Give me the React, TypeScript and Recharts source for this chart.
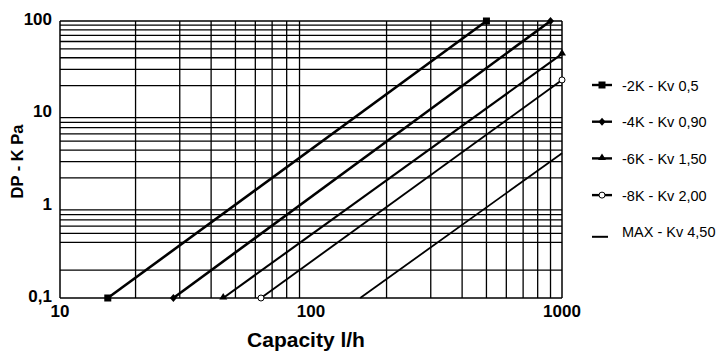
import { Line, LineChart, ReferenceLine, XAxis, YAxis } from "recharts"

const FONT = "'Liberation Sans', Arial, sans-serif"

// axis ticks
const xTicks = [10, 100, 1000]
const xGrid = [20, 30, 40, 50, 60, 70, 80, 90, 200, 300, 400, 500, 600, 700, 800, 900]
const yTicks = [0.1, 1, 10, 100]
const yTickLabels = ["0,1", "1", "10", "100"]
const yGrid = [0.2, 0.4, 0.5, 0.6, 0.7, 0.8, 0.9, 2, 3, 4, 5, 6, 7, 8, 9, 20, 30, 40, 50, 60, 70, 80, 90]

// series (capacity l/h -> pressure drop kPa), end points
const seriesNames = ["-2K - Kv 0,5", "-4K - Kv 0,90", "-6K - Kv 1,50", "-8K - Kv 2,00", "MAX - Kv 4,50"]
const flow2K = [15.5, 500]
const dp2K = [0.1, 100]
const flow4K = [28.3, 900]
const dp4K = [0.1, 100]
const flow6K = [44.7, 1000]
const dp6K = [0.1, 44]
const flow8K = [63.2, 1000]
const dp8K = [0.1, 23]
const flowMax = [157, 1000]
const dpMax = [0.1, 3.7]

type Shape = "square" | "diamond" | "triangle" | "circle" | "none"

const toPoints = (flow: number[], dp: number[]) => flow.map((q, i) => ({ q, dp: dp[i] }))

const series: { name: string; data: { q: number; dp: number }[]; width: number; shape: Shape }[] = [
  { name: seriesNames[0], data: toPoints(flow2K, dp2K), width: 2.6, shape: "square" },
  { name: seriesNames[1], data: toPoints(flow4K, dp4K), width: 2.6, shape: "diamond" },
  { name: seriesNames[2], data: toPoints(flow6K, dp6K), width: 2.1, shape: "triangle" },
  { name: seriesNames[3], data: toPoints(flow8K, dp8K), width: 1.9, shape: "circle" },
  { name: seriesNames[4], data: toPoints(flowMax, dpMax), width: 1.8, shape: "none" },
]

function Marker({ shape, cx, cy }: { shape: Shape; cx: number; cy: number }) {
  if (shape === "square") return <rect x={cx - 3.5} y={cy - 3.5} width={7} height={7} fill="#000" />
  if (shape === "diamond")
    return <polygon points={`${cx},${cy - 4} ${cx + 3.5},${cy} ${cx},${cy + 4} ${cx - 3.5},${cy}`} fill="#000" />
  if (shape === "triangle")
    return <polygon points={`${cx},${cy - 5} ${cx + 4},${cy + 1.5} ${cx - 4},${cy + 1.5}`} fill="#000" />
  if (shape === "circle") return <circle cx={cx} cy={cy} r={3} fill="#fff" stroke="#000" strokeWidth={1} />
  return null
}

function XTick({ x, y, payload }: any) {
  return (
    <text x={x} y={y + 11} textAnchor="middle" fontFamily={FONT} fontWeight="bold" fontSize={17} fill="#000">
      {payload.value}
    </text>
  )
}

function YTick({ x, y, payload }: any) {
  const label = yTickLabels[yTicks.indexOf(payload.value)] ?? payload.value
  return (
    <text x={x} y={y + 4} textAnchor="end" fontFamily={FONT} fontWeight="bold" fontSize={17} fill="#000">
      {label}
    </text>
  )
}

export default function App() {
  return (
    <div style={{ position: "absolute", left: 0, top: 0, width: 719, height: 355, background: "#fff" }}>
      <LineChart width={719} height={355} margin={{ top: 21, right: 157, left: 0, bottom: 0 }}>
        <XAxis
          dataKey="q"
          type="number"
          scale="log"
          domain={[10, 1000]}
          ticks={xTicks}
          height={57}
          tickLine={false}
          axisLine={{ stroke: "#000", strokeWidth: 1.5 }}
          tick={<XTick />}
          allowDuplicatedCategory={false}
        />
        <YAxis
          dataKey="dp"
          type="number"
          scale="log"
          domain={[0.1, 100]}
          ticks={yTicks}
          width={60}
          tickLine={false}
          axisLine={{ stroke: "#000", strokeWidth: 1.5 }}
          tick={<YTick />}
        />
        {xGrid.map((v) => (
          <ReferenceLine key={`x${v}`} x={v} stroke="#000" strokeWidth={1.3} />
        ))}
        {yGrid.map((v) => (
          <ReferenceLine key={`y${v}`} y={v} stroke="#000" strokeWidth={1.3} />
        ))}
        <ReferenceLine x={1000} stroke="#000" strokeWidth={1.5} />
        <ReferenceLine y={100} stroke="#000" strokeWidth={1.5} />
        {series.map((s) => (
          <Line
            key={s.name}
            name={s.name}
            data={s.data}
            dataKey="dp"
            type="linear"
            stroke="#000"
            strokeWidth={s.width}
            isAnimationActive={false}
            dot={
              s.shape === "none"
                ? false
                : (p: any) => <Marker key={`${s.name}-${p.index}`} shape={s.shape} cx={p.cx} cy={p.cy} />
            }
            activeDot={false}
          />
        ))}
      </LineChart>
      <svg width={719} height={355} style={{ position: "absolute", left: 0, top: 0, pointerEvents: "none" }}>
        <text x={306} y={347} textAnchor="middle" fontFamily={FONT} fontWeight="bold" fontSize={21} fill="#000">
          Capacity l/h
        </text>
        <text
          x={22.5}
          y={161.5}
          transform="rotate(-90 22.5 161.5)"
          textAnchor="middle"
          fontFamily={FONT}
          fontWeight="bold"
          fontSize={16.5}
          fill="#000"
        >
          DP - K Pa
        </text>
        {series.map((s, i) => {
          const cy = 85 + i * 36.7
          return (
            <g key={s.name}>
              {s.shape === "none" ? (
                <line x1={592} x2={608} y1={cy + 5} y2={cy + 5} stroke="#000" strokeWidth={2} />
              ) : (
                <>
                  <line x1={592} x2={612} y1={cy} y2={cy} stroke="#000" strokeWidth={2.4} />
                  <Marker shape={s.shape} cx={602} cy={cy} />
                </>
              )}
              <text x={622} y={cy + 5.5} fontFamily={FONT} fontSize={14.5} fill="#000">
                {s.name}
              </text>
            </g>
          )
        })}
      </svg>
    </div>
  )
}
